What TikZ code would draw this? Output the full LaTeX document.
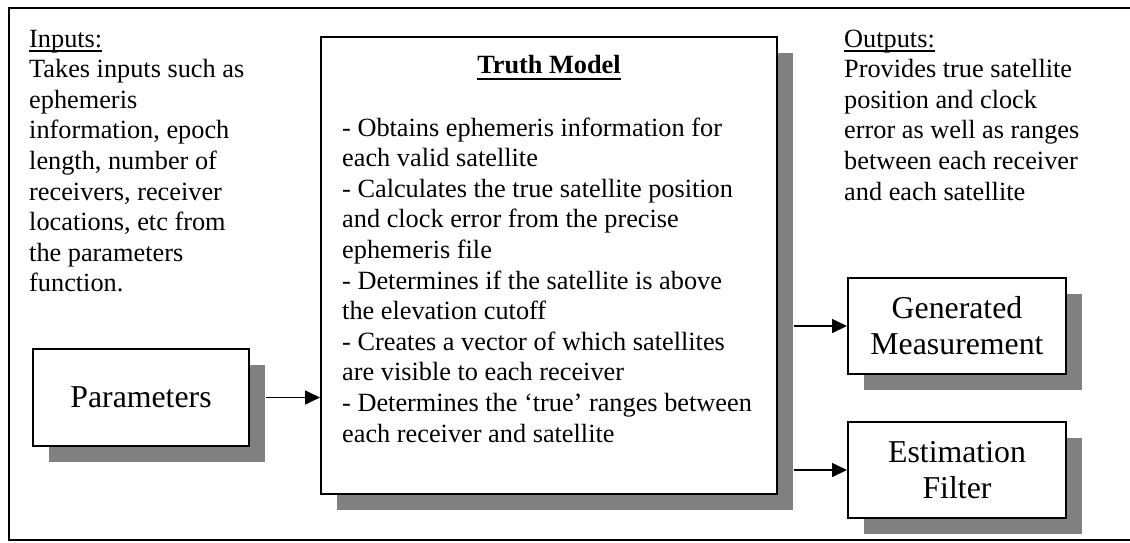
\documentclass[tikz,border=0pt]{standalone}
\usepackage{fontspec}
\setmainfont{Liberation Serif}
\usetikzlibrary{arrows.meta,shadows}
\definecolor{shadowgray}{HTML}{808080}
\newcommand\bodyfont{\fontsize{26.3}{30.6}\selectfont}
\newcommand\bigfont{\fontsize{31.8}{36}\selectfont}
% underline drawn as a rule at a fixed depth below the baseline
\newcommand\underrule[3]{\leavevmode\setbox0\hbox{#1}\rlap{\rule[-#2]{\wd0}{#3}}\box0}
\tikzset{
  blockbox/.style={draw=black, line width=2pt, fill=white, inner sep=0pt,
    align=center, font=\bigfont,
    general shadow={fill=shadowgray, shadow xshift=16pt, shadow yshift=-16pt}},
  flow/.style={line width=1.6pt, -{Triangle[length=15pt,width=14pt]}},
  textblock/.style={anchor=base west, inner sep=0pt, font=\bodyfont},
}
\begin{document}
\begin{tikzpicture}[x=1pt, y=-1pt]
\useasboundingbox (0,0) rectangle (1130,542);
% outer frame (open on the right)
\draw[line width=2pt] (1140,8) -- (9,8) -- (9,540) -- (1140,540);

% blocks
\node[blockbox, minimum width=456pt, minimum height=457pt] (truth) at (549,265.5) {};
\node[blockbox, minimum width=216pt, minimum height=97pt] (param) at (141,397.5) {Parameters};
\node[blockbox, minimum width=218pt, minimum height=96pt] (gen) at (957,326) {Generated\\Measurement};
\node[blockbox, minimum width=218pt, minimum height=96pt] (est) at (957,470) {Estimation\\Filter};

% truth model contents
\node[anchor=base, inner sep=0pt, font=\bodyfont\bfseries] (truthtitle) at (549,73)
  {\underrule{Truth Model}{6.5pt}{2pt}};
\node[textblock] (truthtext) at (342,136) {\parbox[t]{430pt}{\raggedright
  - Obtains ephemeris information for\\
  each valid satellite\\
  - Calculates the true satellite position\\
  and clock error from the precise\\
  ephemeris file\\
  - Determines if the satellite is above\\
  the elevation cutoff\\
  - Creates a vector of which satellites\\
  are visible to each receiver\\
  - Determines the ‘true’ ranges between\\
  each receiver and satellite}};

% inputs / outputs descriptions
\node[textblock] (inputs) at (29,47) {\parbox[t]{280pt}{\raggedright
  \underrule{Inputs:}{4.5pt}{1.5pt}\\
  Takes inputs such as\\
  ephemeris\\
  information, epoch\\
  length, number of\\
  receivers, receiver\\
  locations, etc from\\
  the parameters\\
  function.}};
\node[textblock] (outputs) at (844,47) {\parbox[t]{280pt}{\raggedright
  \underrule{Outputs:}{4.5pt}{1.5pt}\\
  Provides true satellite\\
  position and clock\\
  error as well as ranges\\
  between each receiver\\
  and each satellite}};

% connectors
\draw[flow] ([xshift=16pt]param.east) -- (param.east -| truth.west);
\draw[flow] ([xshift=16pt]gen.west -| truth.east) -- (gen.west);
\draw[flow] ([xshift=16pt]est.west -| truth.east) -- (est.west);
\end{tikzpicture}
\end{document}
